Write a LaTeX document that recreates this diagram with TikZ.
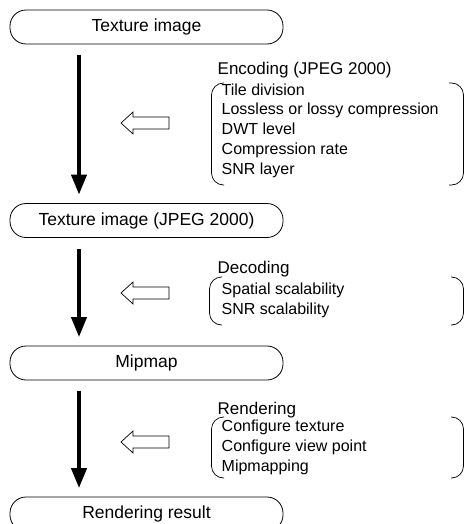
\documentclass[tikz,border=0pt]{standalone}
\usepackage{fontspec}
\setmainfont{Liberation Sans}
\usetikzlibrary{arrows.meta}
\begin{document}
\begin{tikzpicture}[x=1pt,y=-1pt,
  stage/.style={draw, line width=0.8pt, rounded corners=16pt, minimum width=273pt, minimum height=34pt, inner sep=0pt, font=\fontsize{17.5}{20}\selectfont},
  flow/.style={line width=4pt, -{Triangle[length=20pt,width=15pt]}, shorten <=11pt, shorten >=8.5pt},
  head/.style={anchor=west, inner sep=0pt, font=\fontsize{17}{20}\selectfont},
  items/.style={anchor=north west, inner sep=0pt, align=left, font=\fontsize{16}{19.7}\selectfont},
  brack/.style={line width=0.7pt, rounded corners=12pt},
  hollow/.style={draw, line width=0.7pt, fill=white}
]
\useasboundingbox (0,0) rectangle (465,524);
\coordinate (ax) at (79,0);

\node[stage] (s1) at (146.5,27) {Texture image};
\node[stage] (s2) at (146.5,220.5) {Texture image (JPEG 2000)};
\node[stage] (s3) at (146.5,363) {Mipmap};
\node[stage] (s4) at (146.5,514) {Rendering result};

\draw[flow] (s1.south -| ax) -- (s2.north -| ax);
\draw[flow] (s2.south -| ax) -- (s3.north -| ax);
\draw[flow] (s3.south -| ax) -- (s4.north -| ax);

% hollow arrows
\foreach \yy/\nm in {123/h1, 293/h2, 442/h3}{
  \coordinate (\nm) at (121,\yy);
  \draw[hollow] (\nm) -- ++(12,-11) -- ++(0,5) -- ++(36,0) -- ++(0,12) -- ++(-36,0) -- ++(0,5) -- cycle;
}

% Encoding
\node[head] (enc) at (217.5,70) {Encoding (JPEG 2000)};
\node[items] (encl) at (221.5,83.5) {Tile division\\Lossless or lossy compression\\DWT level\\Compression rate\\SNR layer};
\draw[brack] (224,83) -- (211.5,83) -- (211.5,185) -- (224,185);
\draw[brack] (449,83) -- (463.5,83) -- (463.5,185) -- (449,185);

% Decoding
\node[head] (dec) at (217.5,269) {Decoding};
\node[items] (decl) at (221.5,283) {Spatial scalability\\SNR scalability};
\draw[brack] (222,277) -- (209.5,277) -- (209.5,325) -- (222,325);
\draw[brack] (451,277) -- (463.5,277) -- (463.5,325) -- (451,325);

% Rendering
\node[head] (ren) at (217.5,410) {Rendering};
\node[items] (renl) at (221.5,420) {Configure texture\\Configure view point\\Mipmapping};
\draw[brack] (224,417) -- (211.5,417) -- (211.5,478) -- (224,478);
\draw[brack] (451,417) -- (463.5,417) -- (463.5,478) -- (451,478);
\end{tikzpicture}
\end{document}
